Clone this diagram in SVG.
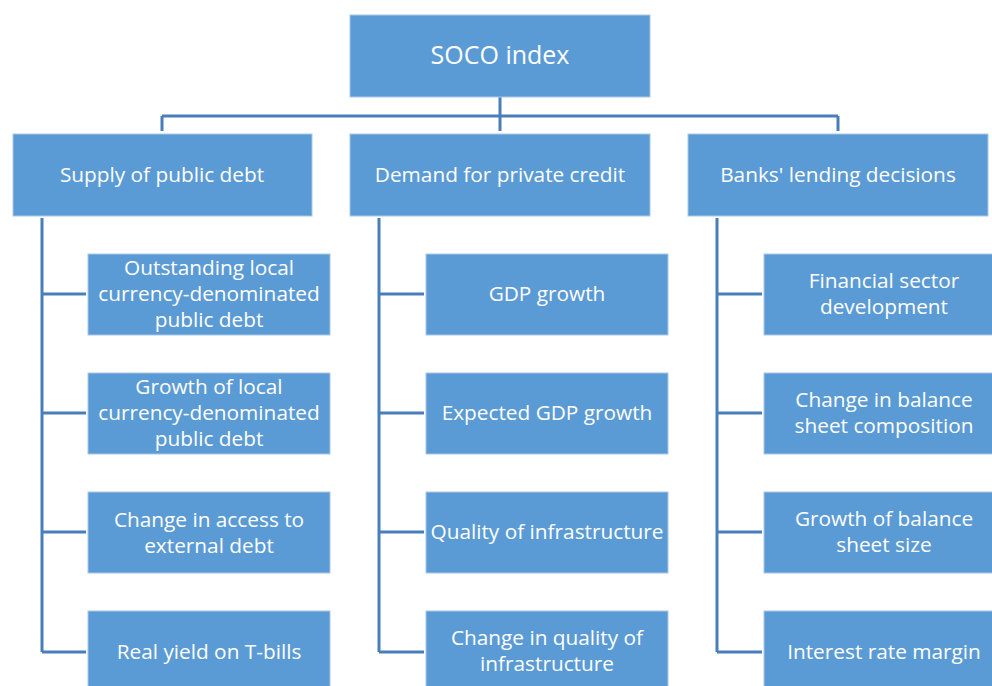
<svg xmlns="http://www.w3.org/2000/svg" width="992" height="686" viewBox="0 0 992 686">
<style>
.box{fill:#5B9BD5;stroke:#A9C8E8;stroke-width:1}
.t{fill:#FFFFFF;font-family:"Open Sans","Noto Sans",sans-serif;font-size:20.8px;text-anchor:middle}
.big{font-size:25px}
.c{fill:none;stroke:#4A7EBB;stroke-width:3}
</style>
<rect width="992" height="686" fill="#FFFFFF"/>
<g id="connectors">
<path class="c" d="M500 97V131M162 116H838M162 116V131M838 116V131"/>
<path class="c" d="M42 218V652M42 294H86M42 413H86M42 532H86M42 652H86"/>
<path class="c" d="M379 218V652M379 294H424M379 413H424M379 532H424M379 652H424"/>
<path class="c" d="M717 218V652M717 294H762M717 413H762M717 532H762M717 652H762"/>
</g>
<g id="soco"><rect class="box" x="350" y="15" width="300" height="82"/><text class="t big" x="500" y="64">SOCO index</text></g>
<g id="supply"><rect class="box" x="13" y="134" width="299" height="82"/><text class="t" x="162" y="182">Supply of public debt</text></g>
<g id="demand"><rect class="box" x="350" y="134" width="300" height="82"/><text class="t" x="500" y="182">Demand for private credit</text></g>
<g id="banks"><rect class="box" x="688" y="134" width="300" height="82"/><text class="t" x="838" y="182">Banks' lending decisions</text></g>

<g id="s1"><rect class="box" x="88" y="254" width="242" height="81"/><text class="t" x="209" y="275">Outstanding local</text><text class="t" x="209" y="301">currency-denominated</text><text class="t" x="209" y="327">public debt</text></g>
<g id="s2"><rect class="box" x="88" y="373" width="242" height="81"/><text class="t" x="209" y="394">Growth of local</text><text class="t" x="209" y="420">currency-denominated</text><text class="t" x="209" y="446">public debt</text></g>
<g id="s3"><rect class="box" x="88" y="492" width="242" height="81"/><text class="t" x="209" y="527">Change in access to</text><text class="t" x="209" y="553">external debt</text></g>
<g id="s4"><rect class="box" x="88" y="611" width="242" height="81"/><text class="t" x="209" y="659">Real yield on T-bills</text></g>

<g id="d1"><rect class="box" x="426" y="254" width="242" height="81"/><text class="t" x="547" y="301">GDP growth</text></g>
<g id="d2"><rect class="box" x="426" y="373" width="242" height="81"/><text class="t" x="547" y="420">Expected GDP growth</text></g>
<g id="d3"><rect class="box" x="426" y="492" width="242" height="81"/><text class="t" x="547" y="539">Quality of infrastructure</text></g>
<g id="d4"><rect class="box" x="426" y="611" width="242" height="81"/><text class="t" x="547" y="645">Change in quality of</text><text class="t" x="547" y="671">infrastructure</text></g>

<g id="b1"><rect class="box" x="764" y="254" width="242" height="81"/><text class="t" x="884" y="288">Financial sector</text><text class="t" x="884" y="314">development</text></g>
<g id="b2"><rect class="box" x="764" y="373" width="242" height="81"/><text class="t" x="884" y="407">Change in balance</text><text class="t" x="884" y="433">sheet composition</text></g>
<g id="b3"><rect class="box" x="764" y="492" width="242" height="81"/><text class="t" x="884" y="526">Growth of balance</text><text class="t" x="884" y="552">sheet size</text></g>
<g id="b4"><rect class="box" x="764" y="611" width="242" height="81"/><text class="t" x="884" y="659">Interest rate margin</text></g>
</svg>
